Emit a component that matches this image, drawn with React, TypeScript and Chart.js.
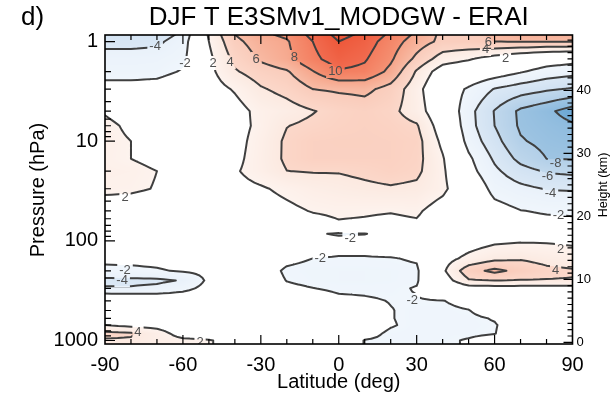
import React, { useEffect, useRef } from "react";
import { Chart, registerables } from "chart.js";

Chart.register(...registerables);

// ---------------- data ----------------
const LATITUDES = [-90, -80, -70, -60, -50, -40, -30, -20, -10, 0, 10, 20, 30, 40, 50, 60, 70, 80, 90];
const PRESSURE_LEVELS = [0.85, 1, 1.5, 2, 3, 5, 7, 10, 15, 20, 30, 50, 70, 85, 100, 150, 200, 250, 300, 400, 500, 600, 700, 850, 1000, 1100];

// temperature difference (K) on each pressure level, latitudes -90..90
const T_P0085 = [-5.2, -5.2, -5.0, -3.6, 2.3, 6.0, 7.6, 8.4, 10.6, 12.6, 11.6, 9.6, 7.6, 5.5, 5.6, 6.3, 7.0, 7.0, 7.0];
const T_P0001 = [-4.6, -4.6, -4.4, -3.0, 2.0, 5.5, 7.0, 7.8, 10.0, 12.0, 11.0, 9.0, 7.0, 5.5, 5.5, 6.0, 6.1, 6.1, 6.1];
const T_P0015 = [-3.2, -3.2, -3.1, -2.5, 1.5, 4.5, 6.3, 7.5, 9.5, 11.0, 10.2, 8.3, 5.5, 3.0, 2.2, 1.0, 0.0, -0.8, -1.2];
const T_P0002 = [-2.8, -2.8, -2.7, -1.8, 1.4, 3.8, 5.0, 5.8, 7.9, 9.8, 9.5, 7.5, 3.8, 0.8, 0.0, -0.8, -1.8, -2.8, -3.3];
const T_P0003 = [-1.2, -1.2, -1.0, -0.3, 1.0, 2.2, 3.8, 4.6, 6.0, 6.3, 6.5, 5.3, 2.8, -0.5, -2.3, -4.1, -5.0, -5.7, -6.2];
const T_P0005 = [1.8, 1.0, 0.3, 0.0, 0.5, 1.2, 2.6, 3.2, 3.9, 4.6, 5.0, 4.5, 3.0, 0.2, -3.3, -6.1, -8.4, -9.5, -11.0];
const T_P0007 = [2.5, 1.6, 0.8, 0.3, 0.5, 1.2, 2.5, 3.95, 4.4, 4.8, 5.0, 4.8, 4.2, 0.8, -3.2, -6.0, -8.3, -9.0, -9.7];
const T_P0010 = [2.6, 2.0, 1.0, 0.5, 0.6, 1.3, 2.8, 4.3, 5.0, 5.1, 5.1, 5.0, 4.7, 1.5, -2.7, -5.3, -7.8, -8.6, -9.0];
const T_P0015b = [2.5, 2.0, 1.5, 0.8, 0.5, 1.5, 2.9, 4.3, 5.0, 5.0, 5.0, 5.0, 4.6, 2.2, -1.6, -4.3, -6.6, -8.0, -8.1];
const T_P0020 = [2.6, 2.5, 2.0, 1.2, 0.8, 1.8, 2.8, 3.98, 4.1, 4.1, 4.4, 4.8, 4.4, 2.4, -1.2, -3.6, -5.2, -6.2, -6.5];
const T_P0030 = [2.4, 2.3, 1.9, 1.3, 1.0, 1.4, 1.8, 2.4, 3.0, 3.3, 3.6, 3.8, 3.6, 2.5, 0.0, -2.7, -3.5, -4.1, -4.2];
const T_P0050 = [1.0, 0.9, 0.8, 0.6, 0.5, 0.8, 1.2, 1.6, 2.1, 2.3, 2.2, 2.1, 2.3, 1.0, 0.0, -1.2, -1.95, -2.2, -2.3];
const T_P0070 = [0.8, 0.7, 0.6, 0.5, 0.4, 0.6, 0.8, 1.0, 1.3, 1.8, 1.7, 1.5, 1.7, 0.8, 0.0, -0.7, -1.2, -1.4, -1.5];
const T_P0085b = [0.0, 0.0, -0.2, -0.3, -0.3, -0.3, -0.5, -0.8, -1.5, -2.4, -2.1, -1.0, -0.2, 0.3, 0.5, 0.5, 0.3, 0.0, -0.3];
const T_P0100 = [-0.5, -0.5, -0.5, -0.4, -0.3, -0.3, -0.4, -0.6, -0.8, -1.0, -1.0, -0.6, 0.0, 0.5, 1.0, 1.6, 1.8, 1.8, 1.6];
const T_P0150 = [-1.5, -1.5, -1.4, -1.2, -1.0, -0.9, -1.0, -1.5, -2.0, -2.15, -2.15, -2.1, -1.8, 1.2, 2.5, 3.5, 3.8, 3.3, 3.0];
const T_P0200 = [-2.5, -2.4, -2.2, -1.8, -1.5, -1.2, -1.0, -2.3, -2.6, -2.6, -2.6, -2.5, -2.3, 1.6, 5.2, 6.5, 5.4, 4.5, 4.2];
const T_P0250 = [-4.5, -4.5, -4.4, -3.85, -1.6, -0.8, -0.9, -2.05, -2.5, -2.6, -2.6, -2.5, -2.2, 0.8, 3.8, 4.0, 3.9, 3.9, 3.9];
const T_P0300 = [-3.8, -3.8, -3.5, -2.6, -1.3, -0.7, -0.8, -1.6, -1.95, -2.3, -2.3, -2.3, -1.9, -0.5, 1.0, 1.1, 1.1, 1.1, 1.1];
const T_P0400 = [0.5, 0.3, 0.0, -0.3, -0.5, -0.5, -0.5, -0.7, -1.0, -1.6, -1.8, -2.05, -2.1, -2.05, -1.5, -0.8, -0.2, 0.0, 0.0];
const T_P0500 = [0.3, 0.2, 0.0, -0.2, -0.3, -0.3, -0.3, -0.4, -0.6, -0.8, -1.4, -1.95, -2.3, -2.3, -2.05, -1.2, -0.5, -0.2, 0.0];
const T_P0600 = [0.5, 0.4, 0.2, 0.0, -0.2, -0.2, -0.2, -0.3, -0.5, -0.8, -1.3, -1.95, -2.3, -2.3, -2.3, -1.9, -0.8, -0.3, 0.0];
const T_P0700 = [2.0, 1.5, 1.2, 0.5, 0.0, -0.1, -0.2, -0.3, -0.5, -0.8, -1.3, -1.9, -2.3, -2.3, -2.3, -2.1, -1.2, -0.5, -0.2];
const T_P0850 = [4.5, 4.2, 3.0, 1.0, 0.5, 0.2, 0.0, -0.2, -0.4, -0.8, -1.6, -2.2, -2.3, -2.3, -2.2, -2.05, -1.0, -0.5, -0.3];
const T_P1000 = [3.8, 3.8, 3.0, 2.5, 2.2, 1.0, 0.3, 0.0, -0.3, -1.0, -2.05, -2.2, -2.2, -2.2, -1.9, -1.5, -0.8, -0.3, -0.2];
const T_P1100 = [3.8, 3.8, 3.0, 2.5, 2.2, 1.0, 0.3, 0.0, -0.3, -1.0, -2.05, -2.2, -2.2, -2.2, -1.9, -1.5, -0.8, -0.3, -0.2];

const T_DIFF = [
  T_P0085, T_P0001, T_P0015, T_P0002, T_P0003, T_P0005, T_P0007, T_P0010, T_P0015b, T_P0020,
  T_P0030, T_P0050, T_P0070, T_P0085b, T_P0100, T_P0150, T_P0200, T_P0250, T_P0300, T_P0400,
  T_P0500, T_P0600, T_P0700, T_P0850, T_P1000, T_P1100,
];

const CONTOUR_LEVELS = [-12, -10, -8, -6, -4, -2, 2, 4, 6, 8, 10, 12];

const LAT_TICKS = [-90, -60, -30, 0, 30, 60, 90];
const PRESSURE_TICKS = [1, 10, 100, 1000];
const HEIGHT_TICKS = [0, 10, 20, 30, 40];

// contour labels: text, latitude, pressure
const LABEL_TEXTS = ["-4", "-2", "2", "4", "6", "8", "10", "6", "4", "2", "-8", "-6", "-4", "-2", "2", "4", "2", "-2", "-2", "-2", "-4", "-2", "4", "2"];
const LABEL_LATS = [-70.7, -59.2, -48.4, -41.8, -31.8, -17.1, -1.3, 57.6, 56.5, 64.2, 83.5, 80.4, 81.5, 84.6, 85.4, 83.5, -82.3, 4.4, -7.1, -82.3, -83.4, 28.3, -77.3, -53.4];
const LABEL_PRESSURES = [1.11, 1.64, 1.64, 1.61, 1.5, 1.43, 1.98, 1.01, 1.19, 1.46, 16.6, 22.4, 33.1, 55.1, 120.8, 196, 36.3, 93.7, 148.6, 196, 247, 392, 822, 1035];

const TITLE = "DJF T E3SMv1_MODGW - ERAI";
const PANEL_TAG = "d)";
const X_TITLE = "Latitude (deg)";
const Y_TITLE = "Pressure (hPa)";
const Y2_TITLE = "Height (km)";

// ---------------- helpers ----------------
const FONT = "'Liberation Sans', Arial, Helvetica, sans-serif";
const LOGP = PRESSURE_LEVELS.map((p) => Math.log10(p));

function fracIndex(arr: number[], v: number): number {
  const n = arr.length;
  if (v <= arr[0]) return 0;
  if (v >= arr[n - 1]) return n - 1;
  let i = 0;
  while (i < n - 2 && arr[i + 1] < v) i++;
  return i + (v - arr[i]) / (arr[i + 1] - arr[i]);
}

function sample(fi: number, fj: number): number {
  const i0 = Math.min(Math.floor(fi), LATITUDES.length - 2);
  const j0 = Math.min(Math.floor(fj), PRESSURE_LEVELS.length - 2);
  const ti = fi - i0;
  const tj = fj - j0;
  const a = T_DIFF[j0][i0];
  const b = T_DIFF[j0][i0 + 1];
  const c = T_DIFF[j0 + 1][i0];
  const d = T_DIFF[j0 + 1][i0 + 1];
  return a * (1 - ti) * (1 - tj) + b * ti * (1 - tj) + c * (1 - ti) * tj + d * ti * tj;
}

// colour of each 2 K band: [colour at inner edge, colour at outer edge]
const POS_BANDS = [
  [[253, 243, 238], [252, 233, 224]],
  [[251, 216, 202], [250, 203, 186]],
  [[248, 188, 166], [246, 165, 138]],
  [[245, 146, 116], [243, 124, 94]],
  [[241, 108, 80], [238, 88, 58]],
];
const NEG_BANDS = [
  [[240, 246, 252], [233, 241, 250]],
  [[219, 232, 245], [208, 225, 242]],
  [[193, 216, 236], [178, 207, 232]],
  [[158, 196, 226], [140, 186, 222]],
  [[118, 174, 216], [98, 160, 210]],
];

function colorFor(v: number): number[] {
  if (v > -2 && v < 2) return [255, 255, 255];
  const bands = v > 0 ? POS_BANDS : NEG_BANDS;
  const av = Math.min(Math.abs(v), 11.999);
  const f = (av - 2) / 2;
  const k = Math.floor(f);
  const t = f - k;
  const c0 = bands[k][0];
  const c1 = bands[k][1];
  return [c0[0] + (c1[0] - c0[0]) * t, c0[1] + (c1[1] - c0[1]) * t, c0[2] + (c1[2] - c0[2]) * t];
}

const contourPlugin = {
  id: "contourField",
  beforeDatasetsDraw(chart: any) {
    const { ctx, chartArea: ca, scales } = chart;
    const xs = scales.x;
    const ys = scales.y;
    const L = Math.round(ca.left);
    const T = Math.round(ca.top);
    const W = Math.round(ca.right) - L;
    const H = Math.round(ca.bottom) - T;

    // ---- filled field ----
    const img = ctx.createImageData(W, H);
    const fis = new Float64Array(W);
    for (let x = 0; x < W; x++) fis[x] = fracIndex(LATITUDES, xs.getValueForPixel(L + x + 0.5));
    const fjs = new Float64Array(H);
    for (let y = 0; y < H; y++) fjs[y] = fracIndex(LOGP, Math.log10(ys.getValueForPixel(T + y + 0.5)));
    for (let y = 0; y < H; y++) {
      for (let x = 0; x < W; x++) {
        const c = colorFor(sample(fis[x], fjs[y]));
        const o = (y * W + x) * 4;
        img.data[o] = c[0];
        img.data[o + 1] = c[1];
        img.data[o + 2] = c[2];
        img.data[o + 3] = 255;
      }
    }
    ctx.putImageData(img, L, T);

    // ---- contour lines (marching squares on refined grid) ----
    const R = 4;
    const NI = (LATITUDES.length - 1) * R + 1;
    const NJ = (PRESSURE_LEVELS.length - 1) * R + 1;
    const gx: number[] = [];
    const gy: number[] = [];
    for (let i = 0; i < NI; i++) {
      const fi = i / R;
      const i0 = Math.min(Math.floor(fi), LATITUDES.length - 2);
      const lat = LATITUDES[i0] + (LATITUDES[i0 + 1] - LATITUDES[i0]) * (fi - i0);
      gx.push(xs.getPixelForValue(lat));
    }
    for (let j = 0; j < NJ; j++) {
      const fj = j / R;
      const j0 = Math.min(Math.floor(fj), PRESSURE_LEVELS.length - 2);
      const lp = LOGP[j0] + (LOGP[j0 + 1] - LOGP[j0]) * (fj - j0);
      gy.push(ys.getPixelForValue(Math.pow(10, lp)));
    }
    const V = new Float64Array(NI * NJ);
    for (let j = 0; j < NJ; j++) for (let i = 0; i < NI; i++) V[j * NI + i] = sample(i / R, j / R);

    ctx.save();
    ctx.font = "13px " + FONT;
    const boxes: number[][] = [];
    for (let k = 0; k < LABEL_TEXTS.length; k++) {
      const lx = xs.getPixelForValue(LABEL_LATS[k]);
      const ly = ys.getPixelForValue(LABEL_PRESSURES[k]);
      const tw = ctx.measureText(LABEL_TEXTS[k]).width;
      boxes.push([lx, ly, tw]);
    }
    ctx.beginPath();
    ctx.rect(ca.left, ca.top, ca.right - ca.left, ca.bottom - ca.top);
    boxes.forEach(([lx, ly, tw]) => ctx.rect(lx - tw / 2 - 2, ly - 7, tw + 4, 14));
    ctx.clip("evenodd");

    ctx.strokeStyle = "#3f3f3f";
    ctx.lineWidth = 2;
    ctx.lineCap = "round";
    ctx.lineJoin = "round";
    ctx.beginPath();
    for (const lev of CONTOUR_LEVELS) {
      for (let j = 0; j < NJ - 1; j++) {
        for (let i = 0; i < NI - 1; i++) {
          const a = V[j * NI + i];
          const b = V[j * NI + i + 1];
          const c = V[(j + 1) * NI + i + 1];
          const d = V[(j + 1) * NI + i];
          const idx = (a > lev ? 1 : 0) | (b > lev ? 2 : 0) | (c > lev ? 4 : 0) | (d > lev ? 8 : 0);
          if (idx === 0 || idx === 15) continue;
          const x0 = gx[i], x1 = gx[i + 1], y0 = gy[j], y1 = gy[j + 1];
          const e = (n: number): number[] => {
            if (n === 0) { const t = (lev - a) / (b - a); return [x0 + (x1 - x0) * t, y0]; }
            if (n === 1) { const t = (lev - b) / (c - b); return [x1, y0 + (y1 - y0) * t]; }
            if (n === 2) { const t = (lev - d) / (c - d); return [x0 + (x1 - x0) * t, y1]; }
            const t = (lev - a) / (d - a);
            return [x0, y0 + (y1 - y0) * t];
          };
          const seg = (p: number, q: number) => {
            const P = e(p);
            const Q = e(q);
            ctx.moveTo(P[0], P[1]);
            ctx.lineTo(Q[0], Q[1]);
          };
          const center = (a + b + c + d) / 4 > lev;
          switch (idx) {
            case 1: case 14: seg(3, 0); break;
            case 2: case 13: seg(0, 1); break;
            case 3: case 12: seg(3, 1); break;
            case 4: case 11: seg(1, 2); break;
            case 6: case 9: seg(0, 2); break;
            case 7: case 8: seg(2, 3); break;
            case 5:
              if (center) { seg(0, 1); seg(2, 3); } else { seg(3, 0); seg(1, 2); }
              break;
            case 10:
              if (center) { seg(3, 0); seg(1, 2); } else { seg(0, 1); seg(2, 3); }
              break;
          }
        }
      }
    }
    ctx.stroke();
    ctx.restore();

    // ---- contour labels ----
    ctx.save();
    ctx.beginPath();
    ctx.rect(ca.left, ca.top, ca.right - ca.left, ca.bottom - ca.top);
    ctx.clip();
    ctx.font = "13px " + FONT;
    ctx.fillStyle = "#505050";
    ctx.textAlign = "center";
    ctx.textBaseline = "middle";
    boxes.forEach(([lx, ly], k) => ctx.fillText(LABEL_TEXTS[k], lx, ly + 0.5));
    ctx.restore();
  },
  afterDraw(chart: any) {
    const { ctx, chartArea: ca, scales } = chart;
    const xs = scales.x;
    const ys = scales.y;
    const y2 = scales.y2;
    ctx.save();
    ctx.strokeStyle = "#000";
    ctx.lineWidth = 1.2;
    ctx.beginPath();
    // latitude ticks every 10 deg, top and bottom, pointing inward
    for (let lat = -80; lat <= 80; lat += 10) {
      const x = xs.getPixelForValue(lat);
      const len = lat % 30 === 0 ? 9 : 5;
      ctx.moveTo(x, ca.bottom);
      ctx.lineTo(x, ca.bottom - len);
      ctx.moveTo(x, ca.top);
      ctx.lineTo(x, ca.top + len);
    }
    // pressure ticks (log), left side
    for (let dec = 1; dec <= 1000; dec *= 10) {
      for (let m = 1; m <= 9; m++) {
        const p = dec * m;
        if (p > 1000) break;
        const y = ys.getPixelForValue(p);
        if (y < ca.top || y > ca.bottom) continue;
        const len = m === 1 ? 10 : 6;
        ctx.moveTo(ca.left, y);
        ctx.lineTo(ca.left + len, y);
      }
    }
    // height ticks, right side
    for (let z = 0; z <= 48; z += 1) {
      const y = y2.getPixelForValue(z);
      const len = z % 10 === 0 ? 9 : 5;
      ctx.moveTo(ca.right, y);
      ctx.lineTo(ca.right - len, y);
    }
    ctx.stroke();
    ctx.lineWidth = 1.6;
    ctx.strokeRect(ca.left, ca.top, ca.right - ca.left, ca.bottom - ca.top);

    // texts
    ctx.fillStyle = "#000";
    ctx.textBaseline = "middle";
    ctx.textAlign = "center";
    ctx.font = "26px " + FONT;
    ctx.fillText(TITLE, (ca.left + ca.right) / 2, 17.5);
    ctx.textAlign = "left";
    ctx.fillText(PANEL_TAG, 21, 17.5);
    ctx.textAlign = "center";
    ctx.font = "20px " + FONT;
    ctx.fillText(X_TITLE, (ca.left + ca.right) / 2, 382);
    ctx.save();
    ctx.translate(38, 190);
    ctx.rotate(-Math.PI / 2);
    ctx.fillText(Y_TITLE, 0, 0);
    ctx.restore();
    ctx.save();
    ctx.font = "12.5px " + FONT;
    ctx.translate(604, 185);
    ctx.rotate(-Math.PI / 2);
    ctx.fillText(Y2_TITLE, 0, 0);
    ctx.restore();
    ctx.restore();
  },
};

export default function App() {
  const canvasRef = useRef<HTMLCanvasElement | null>(null);

  useEffect(() => {
    document.body.style.margin = "0";
    const canvas = canvasRef.current;
    if (!canvas) return;
    const chart = new Chart(canvas, {
      type: "scatter",
      data: { datasets: [{ data: [] }] },
      options: {
        animation: false,
        responsive: false,
        devicePixelRatio: 1,
        layout: { padding: { top: 35, left: 0, right: 0, bottom: 0 } },
        plugins: { legend: { display: false }, tooltip: { enabled: false }, title: { display: false } },
        scales: {
          x: {
            type: "linear",
            position: "bottom",
            min: -90,
            max: 90,
            grid: { display: false, drawTicks: false },
            border: { display: false },
            afterBuildTicks: (s: any) => {
              s.ticks = LAT_TICKS.map((v) => ({ value: v }));
            },
            afterFit: (s: any) => {
              s.height = 56;
            },
            ticks: {
              autoSkip: false,
              maxRotation: 0,
              padding: 9,
              color: "#000",
              font: { family: FONT, size: 20 },
              callback: (v: any) => String(v),
            },
          },
          y: {
            type: "logarithmic",
            position: "left",
            reverse: true,
            min: 0.86,
            max: 1084,
            grid: { display: false, drawTicks: false },
            border: { display: false },
            afterBuildTicks: (s: any) => {
              s.ticks = PRESSURE_TICKS.map((v) => ({ value: v }));
            },
            afterFit: (s: any) => {
              s.width = 105;
            },
            ticks: {
              autoSkip: false,
              padding: 7,
              color: "#000",
              font: { family: FONT, size: 20 },
              callback: (v: any) => String(v),
            },
          },
          y2: {
            type: "linear",
            position: "right",
            min: -0.27,
            max: 48.8,
            grid: { display: false, drawTicks: false },
            border: { display: false },
            afterBuildTicks: (s: any) => {
              s.ticks = HEIGHT_TICKS.map((v) => ({ value: v }));
            },
            afterFit: (s: any) => {
              s.width = 39.5;
            },
            ticks: {
              autoSkip: false,
              padding: 4,
              color: "#000",
              font: { family: FONT, size: 13 },
              callback: (v: any) => String(v),
            },
          },
        },
      },
      plugins: [contourPlugin],
    } as any);
    return () => chart.destroy();
  }, []);

  return (
    <div style={{ position: "fixed", left: 0, top: 0, width: 612, height: 400, background: "#fff" }}>
      <canvas ref={canvasRef} width={612} height={400} style={{ width: 612, height: 400, display: "block" }} />
    </div>
  );
}
